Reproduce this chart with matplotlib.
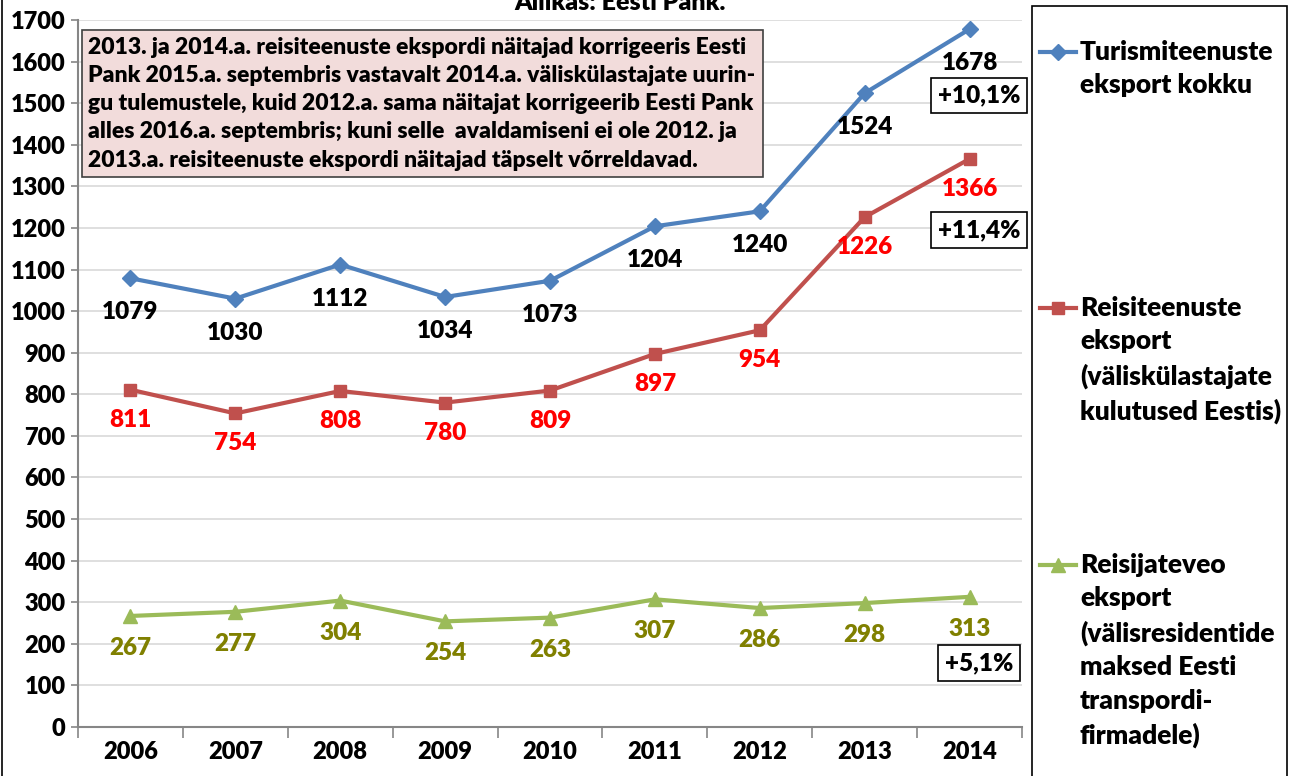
import matplotlib.pyplot as plt
from matplotlib.lines import Line2D
from matplotlib.patches import Rectangle

plt.rcParams['font.family'] = ['Lato', 'DejaVu Sans']
plt.rcParams['font.weight'] = 'heavy'
WT = 'heavy'

years = ['2006', '2007', '2008', '2009', '2010', '2011', '2012', '2013', '2014']
turism = [1079, 1030, 1112, 1034, 1073, 1204, 1240, 1524, 1678]
reisiteenused = [811, 754, 808, 780, 809, 897, 954, 1226, 1366]
reisijatevedu = [267, 277, 304, 254, 263, 307, 286, 298, 313]

growth = ['+10,1%', '+11,4%', '+5,1%']
growth_y = [1518, 1195, 154]

legend_labels = [
    'Turismiteenuste\neksport kokku',
    'Reisiteenuste\neksport\n(väliskülastajate\nkulutused Eestis)',
    'Reisijateveo\neksport\n(välisresidentide\nmaksed Eesti\ntranspordi-\nfirmadele)',
]

note = ('2013. ja 2014.a. reisiteenuste ekspordi näitajad korrigeeris Eesti\n'
        'Pank 2015.a. septembris vastavalt 2014.a. väliskülastajate uurin-\n'
        'gu tulemustele, kuid 2012.a. sama näitajat korrigeerib Eesti Pank\n'
        'alles 2016.a. septembris; kuni selle  avaldamiseni ei ole 2012. ja\n'
        '2013.a. reisiteenuste ekspordi näitajad täpselt võrreldavad.')

blue, red, green = '#4f81bd', '#c0504d', '#9bbb59'
series = [
    (turism, blue, 'D', 8, 'black', 34),
    (reisiteenused, red, 's', 9, '#ff0000', 30),
    (reisijatevedu, green, '^', 10, '#808000', 32),
]

W, H = 1292, 776
fig = plt.figure(figsize=(W / 100, H / 100), dpi=100)
ax = fig.add_axes([78 / W, 49 / H, 944 / W, 707 / H])

x = list(range(len(years)))
for vals, col, mk, ms, lcol, off in series:
    ax.plot(x, vals, color=col, lw=3, marker=mk, markersize=ms, zorder=3)
    for xi, v in zip(x, vals):
        ax.annotate(str(v), (xi, v), xytext=(0, -off), textcoords='offset pixels',
                    ha='center', va='center', fontsize=17.5, color=lcol, fontweight=WT)

for txt, gy in zip(growth, growth_y):
    ax.text(8.09, gy, txt, ha='center', va='center', fontsize=17.5, fontweight=WT,
            bbox=dict(boxstyle='square,pad=0.28', fc='white', ec='black', lw=1.2))

ax.set_xlim(-0.5, 8.5)
ax.set_ylim(0, 1700)
ax.set_yticks(range(0, 1701, 100))
ax.set_xticks(x)
ax.set_xticklabels(years)
ax.set_xticks([i - 0.5 for i in range(10)], minor=True)
ax.tick_params(axis='x', which='major', length=0, pad=10, labelsize=17)
ax.tick_params(axis='x', which='minor', length=8, color='#868686', width=1.2)
ax.tick_params(axis='y', length=5, color='#868686', width=1.2, labelsize=17, pad=4)
for lab in ax.get_xticklabels() + ax.get_yticklabels():
    lab.set_fontweight(WT)

ax.grid(axis='y', color='#d9d9d9', lw=1.2)
ax.set_axisbelow(True)
for s in ['top', 'right']:
    ax.spines[s].set_visible(False)
for s in ['left', 'bottom']:
    ax.spines[s].set_color('#868686')
    ax.spines[s].set_linewidth(1.5)

# note box
ax.text(0.011, 0.976, note, transform=ax.transAxes, ha='left', va='top', fontsize=16.5,
        fontweight=WT, linespacing=1.42,
        bbox=dict(boxstyle='square,pad=0.3', fc='#f2dcdb', ec='#404040', lw=1.2))

# title, cut at the top edge like in the source
fig.text(620 / W, 1 - 10 / H, 'Allikas: Eesti Pank.', ha='center', va='baseline',
         fontsize=18, fontweight=WT)

# frame lines
fig.add_artist(Line2D([2 / W, 2 / W], [0, 1], color='black', lw=1.2))
fig.add_artist(Rectangle((1032 / W, -0.01), (1287 - 1032) / W, 1.01 - 6 / H,
                         transform=fig.transFigure, fill=False, ec='black', lw=1.2))

# legend
leg_y = [52, 308, 565]
for (vals, col, mk, ms, lcol, off), lab, ly in zip(series, legend_labels, leg_y):
    yy = 1 - ly / H
    fig.add_artist(Line2D([1040 / W, 1076 / W], [yy, yy], color=col, lw=3))
    fig.add_artist(Line2D([1058 / W], [yy], color=col, marker=mk, markersize=ms, lw=0))
    fig.text(1080 / W, 1 - (ly - 12) / H, lab, ha='left', va='top', fontsize=19,
             fontweight=WT, linespacing=1.47)

fig.savefig('out.png', dpi=100)
